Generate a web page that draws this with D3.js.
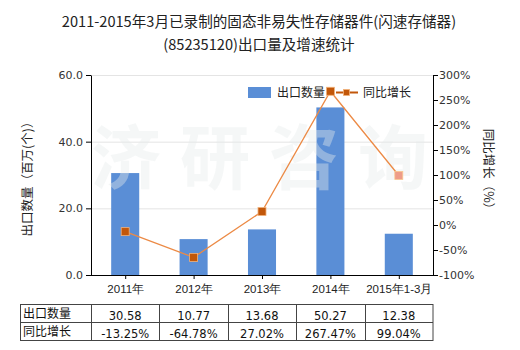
<!DOCTYPE html>
<html>
<head>
<meta charset="utf-8">
<script src="https://cdn.jsdelivr.net/npm/d3@7"></script>
<style>
  html, body { margin: 0; padding: 0; background: #fff; }
  svg { display: block; font-family: "Microsoft YaHei", "Noto Sans CJK SC", "DejaVu Sans", sans-serif; }
</style>
</head>
<body>
<svg id="chart" width="520" height="350"></svg>
<script>
// Export volume (million units) and year-on-year growth (%)
const categories = ["2011年", "2012年", "2013年", "2014年", "2015年1-3月"];
const volumes = [30.58, 10.77, 13.68, 50.27, 12.38];
const growth = [-13.25, -64.78, 27.02, 267.47, 99.04];
const volumeTicks = [0, 20, 40, 60];
const growthTicks = [-100, -50, 0, 50, 100, 150, 200, 250, 300];
const titleLines = ["2011-2015年3月已录制的固态非易失性存储器件(闪速存储器)", "(85235120)出口量及增速统计"];
const seriesNames = ["出口数量", "同比增长"];
const watermarkChars = ["济", "研", "咨", "询"];

const svg = d3.select("#chart");
const plot = { left: 91, right: 433, top: 75, bottom: 275 };
const barColor = "#5A8ED6";
const lineColor = "#EC8A45";
const markerColor = "#C2570A";

const x = d3.scaleBand().domain(categories).range([plot.left, plot.right]).paddingInner(0.59).paddingOuter(0.295);
const xCenter = d3.scalePoint().domain(categories).range([plot.left, plot.right]).padding(0.5);
const yL = d3.scaleLinear().domain([0, 60]).range([plot.bottom, plot.top]);
const yR = d3.scaleLinear().domain([-100, 300]).range([plot.bottom, plot.top]);

// Title
svg.append("g").selectAll("text").data(titleLines).join("text")
  .attr("x", 259).attr("y", (d, i) => 27 + i * 23)
  .attr("text-anchor", "middle").attr("font-size", 14.6).attr("fill", "#222")
  .text(d => d);

// Gridlines
svg.append("g").selectAll("line").data(volumeTicks.filter(d => d > 0)).join("line")
  .attr("x1", plot.left).attr("x2", plot.right)
  .attr("y1", d => yL(d) + 0.5).attr("y2", d => yL(d) + 0.5)
  .attr("stroke", "#e4e4e4").attr("stroke-width", 1);

// Bars
svg.append("g").selectAll("rect").data(volumes).join("rect")
  .attr("x", (d, i) => x(categories[i]))
  .attr("width", x.bandwidth())
  .attr("y", d => yL(d))
  .attr("height", d => yL(0) - yL(d))
  .attr("fill", barColor);

// Watermark, one glyph at a time
svg.append("g").selectAll("text").data(watermarkChars).join("text")
  .attr("x", (d, i) => 126 + i * 89)
  .attr("y", 184)
  .attr("text-anchor", "middle").attr("font-size", 70).attr("font-weight", "bold")
  .attr("fill", "#e6eaea").attr("fill-opacity", 0.4)
  .text(d => d);

// Growth line
const line = d3.line().x((d, i) => xCenter(categories[i])).y(d => yR(d));
svg.append("path").datum(growth)
  .attr("d", line).attr("fill", "none")
  .attr("stroke", lineColor).attr("stroke-width", 1.3);
svg.append("g").selectAll("rect").data(growth).join("rect")
  .attr("x", (d, i) => xCenter(categories[i]) - 4)
  .attr("y", d => yR(d) - 4)
  .attr("width", 8).attr("height", 8)
  .attr("fill", (d, i) => i === growth.length - 1 ? "#EE9C88" : markerColor)
  .attr("stroke", (d, i) => i === growth.length - 1 ? "#F8C890" : "#F2B27A")
  .attr("stroke-width", 0.8);

// Axes
const axisFont = g => g.selectAll("text").attr("font-size", 11).attr("fill", "#333")
  .attr("font-family", "'DejaVu Sans', 'Noto Sans CJK SC', sans-serif");

const leftAxis = svg.append("g").attr("transform", `translate(${plot.left},0)`)
  .call(d3.axisLeft(yL).tickValues(volumeTicks).tickFormat(d3.format(".1f")).tickSize(5).tickSizeOuter(0));
leftAxis.call(axisFont);
leftAxis.selectAll("path,line").attr("stroke", "#000");

const rightAxis = svg.append("g").attr("transform", `translate(${plot.right},0)`)
  .call(d3.axisRight(yR).tickValues(growthTicks).tickFormat(d => d + "%").tickSize(5).tickSizeOuter(0));
rightAxis.call(axisFont);
rightAxis.selectAll("text").attr("x", 6);
rightAxis.selectAll("path,line").attr("stroke", "#000");

const bottomAxis = svg.append("g").attr("transform", `translate(0,${plot.bottom})`)
  .call(d3.axisBottom(xCenter).tickSize(4).tickSizeOuter(0));
bottomAxis.selectAll("text").attr("font-size", 11.5).attr("fill", "#222").attr("dy", "0.95em");
bottomAxis.selectAll("path").attr("d", `M${plot.left},0.5H${plot.right}`).attr("stroke", "#000");
bottomAxis.selectAll("line").attr("stroke", "#000");

// Axis titles
svg.append("text")
  .attr("transform", `translate(32,176) rotate(-90)`)
  .attr("text-anchor", "middle").attr("font-size", 12.5).attr("fill", "#222")
  .text("出口数量（百万(个)）");
svg.append("text")
  .attr("transform", `translate(484,172) rotate(90)`)
  .attr("text-anchor", "middle").attr("font-size", 12.5).attr("fill", "#222")
  .text("同比增长（%）");

// Legend
const legend = svg.append("g");
legend.append("rect").attr("x", 248).attr("y", 87).attr("width", 23).attr("height", 11).attr("fill", barColor);
legend.append("text").attr("x", 277).attr("y", 97).attr("font-size", 12).attr("fill", "#222").text(seriesNames[0]);
legend.append("line").attr("x1", 336).attr("x2", 358).attr("y1", 92.5).attr("y2", 92.5)
  .attr("stroke", markerColor).attr("stroke-width", 2);
legend.append("rect").attr("x", 343.5).attr("y", 89.5).attr("width", 6).attr("height", 6)
  .attr("fill", markerColor).attr("stroke", "#F2B27A").attr("stroke-width", 0.8);
legend.append("text").attr("x", 363).attr("y", 97).attr("font-size", 12).attr("fill", "#222").text(seriesNames[1]);

// Data table
const tableTop = 304.5, rowH = 18, tableLeft = 20.5;
const colEdges = [tableLeft].concat(categories.map(c => xCenter(c) - xCenter.step() / 2), [plot.right]);
const table = svg.append("g");
table.append("rect").attr("x", tableLeft).attr("y", tableTop)
  .attr("width", plot.right - tableLeft).attr("height", rowH * 2)
  .attr("fill", "none").attr("stroke", "#444").attr("stroke-width", 1);
table.append("line").attr("x1", tableLeft).attr("x2", plot.right)
  .attr("y1", tableTop + rowH).attr("y2", tableTop + rowH).attr("stroke", "#444");
table.selectAll("line.col").data(colEdges.slice(1, -1)).join("line").attr("class", "col")
  .attr("x1", d => Math.round(d) + 0.5).attr("x2", d => Math.round(d) + 0.5)
  .attr("y1", tableTop).attr("y2", tableTop + rowH * 2).attr("stroke", "#444");

const rows = [
  { name: seriesNames[0], values: volumes.map(d => d.toFixed(2)) },
  { name: seriesNames[1], values: growth.map(d => d.toFixed(2) + "%") }
];
rows.forEach((r, ri) => {
  const yBase = tableTop + rowH * ri;
  table.append("text").attr("x", 23).attr("y", yBase + 13).attr("font-size", 12).attr("fill", "#111").text(r.name);
  table.selectAll(null).data(r.values).join("text")
    .attr("x", (d, i) => xCenter(categories[i]))
    .attr("y", yBase + 15)
    .attr("text-anchor", "middle").attr("font-size", 11.5).attr("fill", "#111")
    .attr("font-family", "'DejaVu Sans', sans-serif")
    .text(d => d);
});
</script>
</body>
</html>
